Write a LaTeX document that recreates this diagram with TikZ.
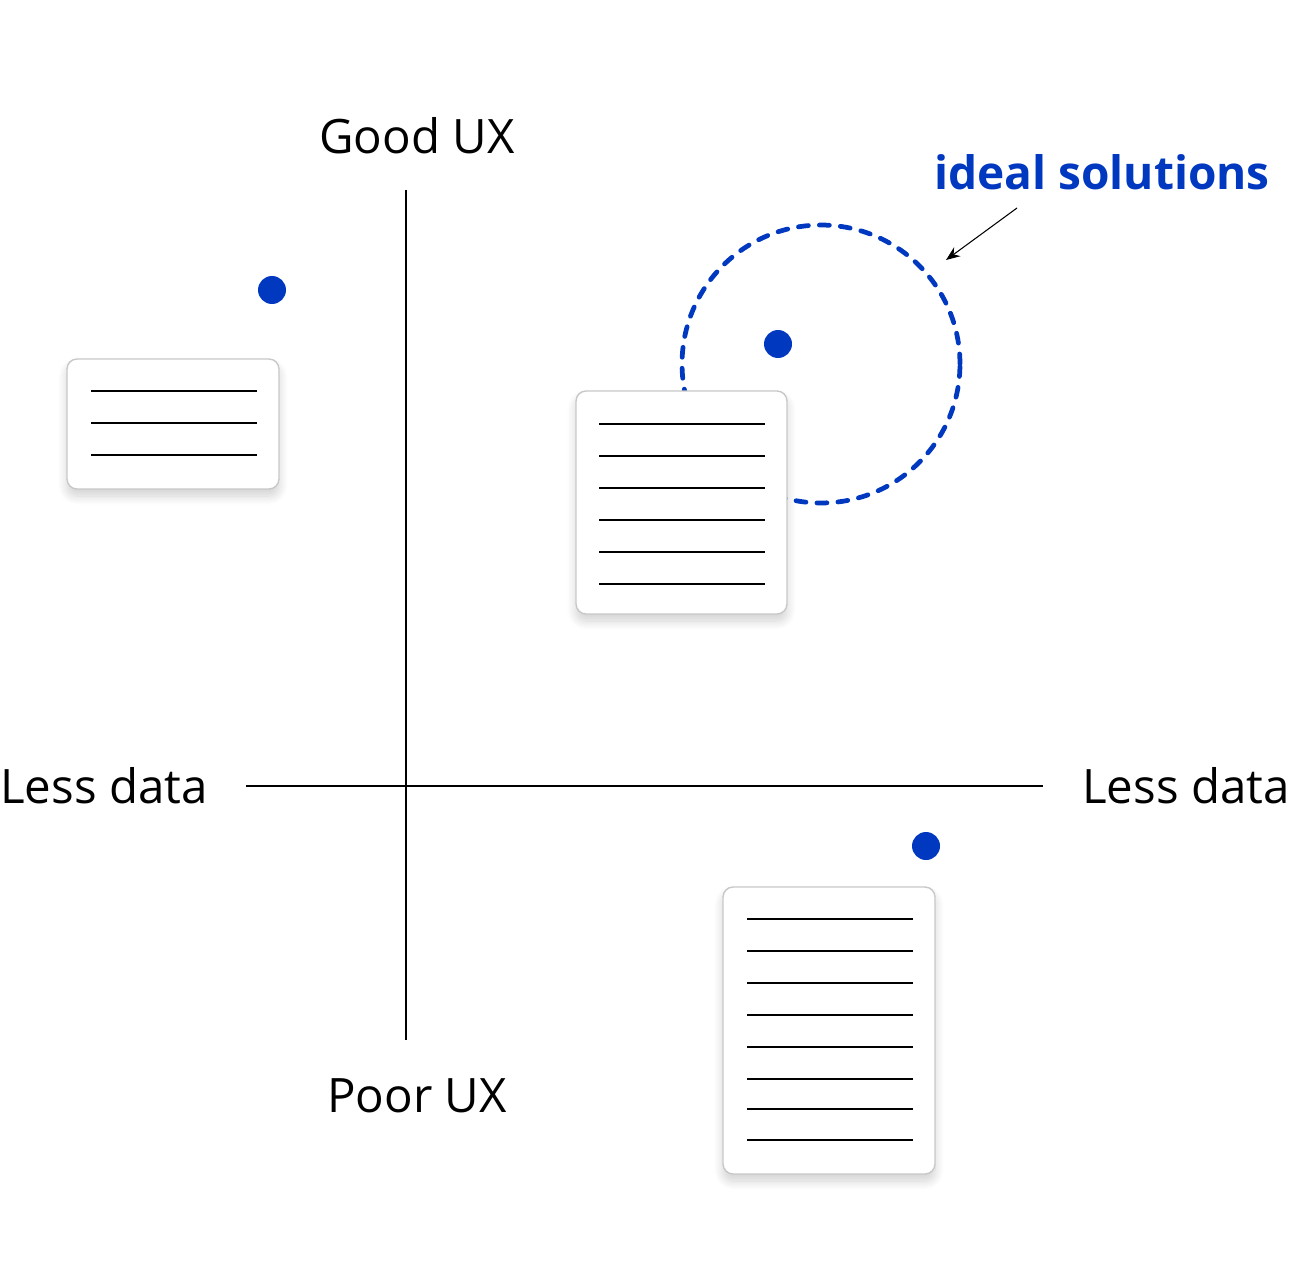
\documentclass[tikz,border=0pt]{standalone}
\usepackage{fontspec}
\setmainfont{Open Sans}
\usetikzlibrary{arrows.meta,shadows.blur}
\definecolor{idealblue}{RGB}{0,56,192}
\definecolor{cardgray}{RGB}{200,200,200}
\tikzset{
	axisline/.style={line width=0.85pt,black},
	label/.style={font=\fontsize{27}{30}\selectfont,inner sep=0pt},
	dot/.style={circle,fill=idealblue,minimum size=0.56cm,inner sep=0pt},
	card/.style={draw=cardgray,line width=0.8pt,fill=white,rounded corners=0.2cm,inner sep=0pt,
		blur shadow={shadow blur steps=10,shadow opacity=18,shadow xshift=0pt,shadow yshift=-4pt,shadow blur radius=5pt}},
	cardline/.style={line width=1.15pt,black},
	idealring/.style={circle,draw=idealblue,line width=2.7pt,line cap=round,dash pattern=on 0.2cm off 0.22cm,inner sep=0pt}
}
\begin{document}
\begin{tikzpicture}[x=0.02cm,y=-0.02cm]
		\useasboundingbox (0,0) rectangle (1314,1260);
		%Axes
		\coordinate (axisTop) at (406,190);
		\coordinate (axisBottom) at (406,1040);
		\coordinate (axisLeft) at (246,786);
		\coordinate (axisRight) at (1043,786);
		\draw [axisline] (axisTop) -- (axisBottom);
		\draw [axisline] (axisLeft) -- (axisRight);
		%Axis labels
		\node [label] (goodux) at (417,136) {Good UX};
		\node [label] (poorux) at (417,1096) {Poor UX};
		\node [label] (lessleft) at (104,786) {Less data};
		\node [label] (lessright) at (1186,786) {Less data};
		%The ideal region
		\node [idealring,minimum size=5.56cm] (ideal) at (821,364) {};
		\node [label,text=idealblue,font=\fontsize{26.2}{30}\selectfont\bfseries] (idealtext) at (1102,172) {ideal solutions};
		\coordinate (arrowStart) at (1017,208);
		\coordinate (arrowEnd) at (946,260);
		\draw [-{Stealth[length=0.28cm,width=0.22cm]},line width=0.6pt] (arrowStart) -- (arrowEnd);
		%Dots
		\node [dot] (dot1) at (272,290) {};
		\node [dot] (dot2) at (778,344) {};
		\node [dot] (dot3) at (926,846) {};
		%Card 1
		\node [card,minimum width=4.24cm,minimum height=2.6cm] (card1) at (173,424) {};
		\foreach \y in {391,423,455} {
			\draw [cardline] (91,\y) -- (257,\y);
		}
		%Card 2
		\node [card,minimum width=4.22cm,minimum height=4.46cm] (card2) at (681.5,502.5) {};
		\foreach \y in {424,456,488,520,552,584} {
			\draw [cardline] (599,\y) -- (765,\y);
		}
		%Card 3
		\node [card,minimum width=4.24cm,minimum height=5.74cm] (card3) at (829,1030.5) {};
		\foreach \y in {919,951,983,1015,1047,1079,1109,1140} {
			\draw [cardline] (747,\y) -- (913,\y);
		}
\end{tikzpicture}
\end{document}
